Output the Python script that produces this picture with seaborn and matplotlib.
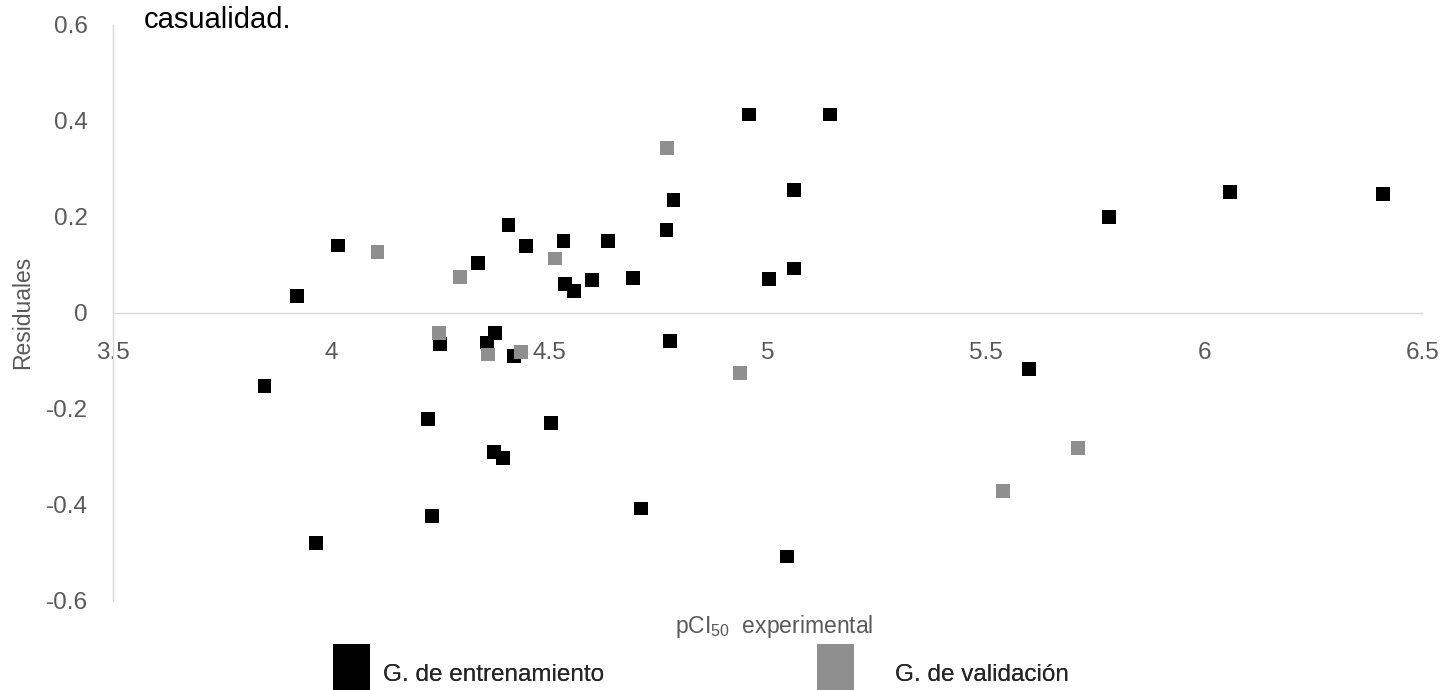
import numpy as np
import pandas as pd
import matplotlib
matplotlib.use("Agg")
import matplotlib.pyplot as plt
from matplotlib.patches import Patch
import seaborn as sns

# residuals
train_x = [3.847, 3.922, 3.966, 4.016, 4.222, 4.231, 4.249, 4.337, 4.356, 4.376,
           4.373, 4.393, 4.406, 4.419, 4.447, 4.504, 4.532, 4.536, 4.557, 4.598,
           4.635, 4.692, 4.710, 4.768, 4.776, 4.784, 4.958, 5.002, 5.045, 5.061,
           5.061, 5.143, 5.599, 5.781, 6.060, 6.410]
train_y = [-0.153, 0.034, -0.480, 0.140, -0.221, -0.424, -0.066, 0.103, -0.062, -0.043,
           -0.291, -0.303, 0.183, -0.090, 0.139, -0.230, 0.149, 0.060, 0.045, 0.068,
           0.149, 0.072, -0.408, 0.172, -0.059, 0.235, 0.413, 0.071, -0.508, 0.256,
           0.092, 0.413, -0.118, 0.200, 0.252, 0.247]
val_x = [4.106, 4.247, 4.295, 4.360, 4.435, 4.512, 4.770, 4.936, 5.538, 5.711]
val_y = [0.127, -0.043, 0.075, -0.087, -0.081, 0.113, 0.344, -0.125, -0.371, -0.281]

group_names = ["G. de entrenamiento", "G. de validación"]
x_ticks = [3.5, 4, 4.5, 5, 5.5, 6, 6.5]
y_ticks = [-0.6, -0.4, -0.2, 0, 0.2, 0.4, 0.6]

colors = {group_names[0]: "#000000", group_names[1]: "#8f8f8f"}
font = ["Liberation Sans", "DejaVu Sans"]
tick_grey = "#595959"

df = pd.concat([
    pd.DataFrame({"x": train_x, "y": train_y, "grupo": group_names[0]}),
    pd.DataFrame({"x": val_x, "y": val_y, "grupo": group_names[1]}),
])

sns.set_style("white")
plt.rcParams["font.family"] = font
plt.rcParams["axes.unicode_minus"] = False

W, H = 1441, 690
fig = plt.figure(figsize=(W / 100, H / 100), dpi=100)
ax = fig.add_axes([113 / W, (H - 600.7) / H, 1309.5 / W, 576 / H])

sns.scatterplot(data=df, x="x", y="y", hue="grupo", palette=colors, marker="s",
                s=100, linewidth=0, legend=False, ax=ax)

ax.set_xlim(3.5, 6.5)
ax.set_ylim(-0.6, 0.6)
ax.set_xticks(x_ticks)
ax.set_xticklabels([f"{v:g}" for v in x_ticks])
ax.set_yticks(y_ticks)
ax.set_yticklabels([f"{v:g}" for v in y_ticks])
ax.set_xlabel("")
ax.set_ylabel("")

for side in ["top", "right"]:
    ax.spines[side].set_visible(False)
ax.spines["bottom"].set_position(("data", 0))
for side in ["left", "bottom"]:
    ax.spines[side].set_color("#d9d9d9")
    ax.spines[side].set_linewidth(1.0)

ax.tick_params(axis="x", length=0, pad=21, colors=tick_grey, labelsize=17.5)
ax.tick_params(axis="y", length=0, pad=18, colors=tick_grey, labelsize=17.5)

fig.text(23 / W, 1 - 312.7 / H, "Residuales", rotation=90, ha="center", va="center",
         fontsize=16.5, color=tick_grey)
fig.text(774 / W, 1 - 627 / H, r"pCI$_{\mathregular{50}}$  experimental", ha="center",
         va="center", fontsize=16.5, color=tick_grey)
fig.text(144 / W, 1 - 28 / H, "casualidad.", ha="left", va="baseline",
         fontsize=21, color="black")

# one legend per entry, the reference spaces them unevenly
legend_x = [333, 817]
text_pad = [0.53, 1.69]
for g, lx, pad in zip(group_names, legend_x, text_pad):
    leg = fig.legend([Patch(facecolor=colors[g], edgecolor="none")], [g],
                     loc="upper left", bbox_to_anchor=(lx / W, 1 - 644 / H),
                     frameon=False, borderpad=0, borderaxespad=0, handlelength=1.52,
                     handleheight=3.4, handletextpad=pad, prop={"size": 17.5})
    fig.add_artist(leg)

fig.savefig("out.png", dpi=100)
